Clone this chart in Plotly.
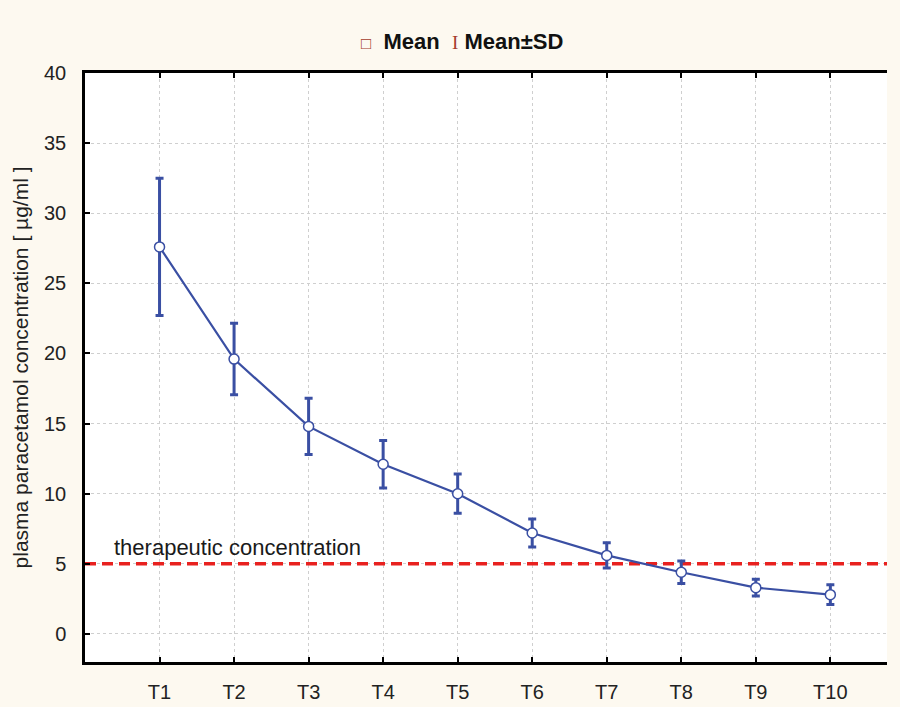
import plotly.graph_objects as go

# Sampling times and plasma paracetamol concentrations (µg/ml)
times = ["T1", "T2", "T3", "T4", "T5", "T6", "T7", "T8", "T9", "T10"]
mean_conc = [27.6, 19.6, 14.8, 12.1, 10.0, 7.2, 5.6, 4.4, 3.3, 2.8]
sd_conc = [4.9, 2.55, 2.0, 1.7, 1.4, 1.0, 0.9, 0.8, 0.6, 0.7]
therapeutic_level = 5
y_ticks = [0, 5, 10, 15, 20, 25, 30, 35, 40]

BLUE = "#3a4fa3"
RED = "#e8211f"
BROWN = "#a53c2c"
FONT = "Liberation Sans, Arial, sans-serif"

fig = go.Figure()

# therapeutic threshold as a dashed line across the plot
fig.add_trace(go.Scatter(
    x=[-1, len(times)],
    y=[therapeutic_level, therapeutic_level],
    mode="lines",
    line=dict(color=RED, width=3.5, dash="11px,6px"),
    hoverinfo="skip",
    showlegend=False,
))

fig.add_trace(go.Scatter(
    x=list(range(len(times))),
    y=mean_conc,
    mode="lines+markers",
    line=dict(color=BLUE, width=2.2),
    marker=dict(symbol="circle", size=10, color="white",
                line=dict(color=BLUE, width=1.5)),
    error_y=dict(type="data", array=sd_conc, visible=True,
                 color=BLUE, thickness=3, width=4),
    showlegend=False,
))

fig.add_annotation(
    x=-0.64, y=6.2, xref="x", yref="y",
    text="therapeutic concentration",
    showarrow=False, xanchor="left", yanchor="middle",
    font=dict(family=FONT, size=22, color="#1a1a1a"),
)

# legend row above the plot
fig.add_annotation(
    x=0.47, y=1.053, xref="paper", yref="paper",
    text=("<span style='color:%s;font-size:17px'>□</span>  <b>Mean</b>  "
          "<span style='color:%s;font-family:Liberation Serif;font-size:19px'>I</span> <b>Mean±SD</b>") % (BROWN, BROWN),
    showarrow=False, xanchor="center", yanchor="middle",
    font=dict(family=FONT, size=22, color="#111"),
)

fig.update_layout(
    width=900, height=707,
    margin=dict(l=85, r=13, t=73, b=45),
    paper_bgcolor="#fdf9f0",
    plot_bgcolor="white",
    font=dict(family=FONT, size=20, color="#222"),
    showlegend=False,
)

fig.update_xaxes(
    range=[-1, 9.76],
    tickmode="array",
    tickvals=list(range(len(times))),
    ticktext=times,
    tickfont=dict(size=20),
    showline=True, linecolor="black", linewidth=2.5,
    mirror="ticks",
    ticks="inside", ticklen=5, tickwidth=2, tickcolor="black",
    showgrid=True, gridcolor="#cfcfcf", griddash="dot", gridwidth=1,
    zeroline=False,
    ticklabelstandoff=10,
    automargin=False,
)

fig.update_yaxes(
    range=[-2, 40],
    tickmode="array",
    tickvals=y_ticks,
    tickfont=dict(size=20),
    showline=True, linecolor="black", linewidth=2.5,
    ticks="inside", ticklen=5, tickwidth=2, tickcolor="black",
    showgrid=True, gridcolor="#cfcfcf", griddash="dot", gridwidth=1,
    zeroline=False,
    ticklabelstandoff=12,
    automargin=False,
    title=dict(text="plasma paracetamol concentration [ µg/ml ]",
               font=dict(family=FONT, size=21, color="#222"), standoff=10),
)

fig.write_html("out.html")
